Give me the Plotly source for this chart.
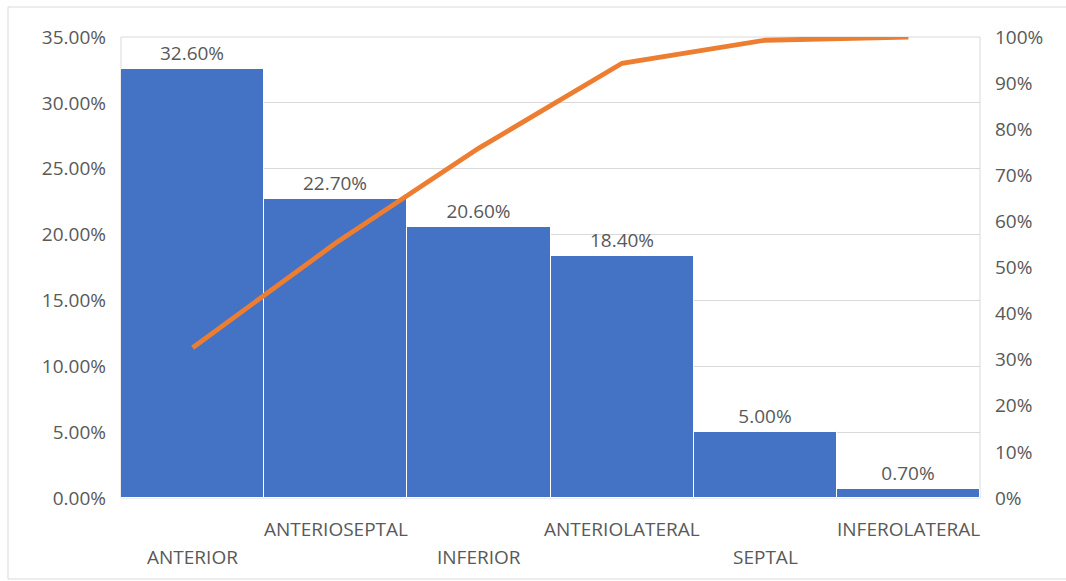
import plotly.graph_objects as go

# Infarct location share (%) and cumulative share (%)
categories = ["ANTERIOR", "ANTERIOSEPTAL", "INFERIOR", "ANTERIOLATERAL", "SEPTAL", "INFEROLATERAL"]
share_pct = [32.6, 22.7, 20.6, 18.4, 5.0, 0.7]
cumulative_pct = [32.6, 55.3, 75.9, 94.3, 99.3, 100.0]

left_max, left_step = 35, 5
right_max, right_step = 100, 10

W, H = 1066, 581
ML, MR, MT, MB = 121, 86, 37, 83
PW, PH = W - ML - MR, H - MT - MB

FONT = "Open Sans"
TXT = "#595959"
GRID = "#d9d9d9"

fig = go.Figure()

fig.add_trace(go.Bar(
    x=categories,
    y=share_pct,
    marker=dict(color="#4472C4", line=dict(color="white", width=1)),
    text=share_pct,
    texttemplate="%{y:.2f}%",
    textposition="outside",
    textfont=dict(family=FONT, size=19, color=TXT),
    cliponaxis=False,
    showlegend=False,
    yaxis="y",
))

fig.add_trace(go.Scatter(
    x=categories,
    y=cumulative_pct,
    mode="lines",
    line=dict(color="#ED7D31", width=4.8),
    showlegend=False,
    yaxis="y2",
    cliponaxis=False,
))

# staggered category labels
annotations = []
for i, c in enumerate(categories):
    annotations.append(dict(
        x=c, xref="x", y=(-0.128 if i % 2 == 0 else -0.067), yref="paper",
        text=c, showarrow=False, xanchor="center", yanchor="middle",
        font=dict(family=FONT, size=19, color=TXT),
    ))

def px_x(p):
    return (p - ML) / PW

def px_y(p):
    return (H - MB - p) / PH

shapes = [
    # outer chart frame
    dict(type="rect", xref="paper", yref="paper",
         x0=px_x(8), x1=px_x(1075), y0=px_y(579), y1=px_y(7),
         line=dict(color=GRID, width=1), layer="below"),
    # plot area frame
    dict(type="rect", xref="paper", yref="paper",
         x0=0, x1=1, y0=0, y1=1,
         line=dict(color=GRID, width=1), layer="below"),
]

fig.update_layout(
    width=W, height=H,
    margin=dict(l=ML, r=MR, t=MT, b=MB, pad=0),
    paper_bgcolor="white", plot_bgcolor="white",
    bargap=0,
    font=dict(family=FONT, size=19, color=TXT),
    xaxis=dict(type="category", range=[-0.5, 5.5], showticklabels=False,
               showgrid=False, zeroline=False, showline=False, ticks=""),
    yaxis=dict(range=[0, left_max], tickmode="linear", tick0=0, dtick=left_step,
               tickformat=".2f", ticksuffix="%",
               showgrid=True, gridcolor=GRID, gridwidth=1, zeroline=False,
               showline=False, ticks="", ticklabelstandoff=14,
               tickfont=dict(family=FONT, size=19, color=TXT)),
    yaxis2=dict(range=[0, right_max], tickmode="linear", tick0=0, dtick=right_step,
                tickformat=".0f", ticksuffix="%",
                overlaying="y", side="right", showgrid=False, zeroline=False,
                showline=False, ticks="", ticklabelstandoff=14,
                tickfont=dict(family=FONT, size=19, color=TXT)),
    annotations=annotations,
    shapes=shapes,
)

fig.write_html("out.html")
